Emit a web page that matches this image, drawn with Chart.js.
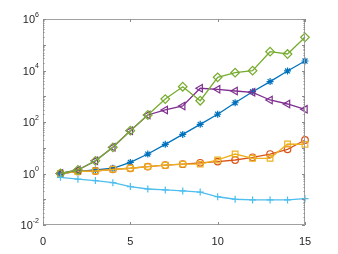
<!DOCTYPE html>
<html>
<head>
<meta charset="utf-8">
<script src="https://cdn.jsdelivr.net/npm/chart.js@4"></script>
<style>
  html, body { margin: 0; padding: 0; background: #fff; }
  #wrap { width: 338px; height: 254px; }
</style>
</head>
<body>
<div id="wrap"><canvas id="c" width="338" height="254"></canvas></div>
<script>
// data
var xs = [1, 2, 3, 4, 5, 6, 7, 8, 9, 10, 11, 12, 13, 14, 15];
var blueStar = [1, 1.2, 1.37, 1.6, 2.7, 5.7, 13.6, 33, 81, 200, 560, 1500, 3700, 9600, 23400];
var orangeCircle = [1, 1.2, 1.25, 1.45, 1.6, 1.85, 2.1, 2.3, 2.6, 2.9, 3.35, 4.25, 5.7, 8.7, 20];
var yellowSquare = [1, 1.2, 1.25, 1.45, 1.6, 1.85, 2.1, 2.3, 2.3, 3.35, 5.7, 3.9, 3.9, 14, 13.6];
var purpleTri = [1, 1.37, 3.1, 10.4, 46, 187, 293, 420, 2040, 1860, 1600, 1420, 715, 500, 310];
var greenDiamond = [1, 1.37, 3.1, 10.4, 46, 187, 780, 2340, 670, 5450, 8200, 9800, 53700, 43700, 195000];
var cyanPlus = [0.71, 0.6, 0.53, 0.44, 0.31, 0.25, 0.23, 0.21, 0.19, 0.125, 0.1, 0.094, 0.094, 0.094, 0.105];
var xTicks = [0, 5, 10, 15];
var yTicks = [1e-2, 1e0, 1e2, 1e4, 1e6];

var AXIS = '#262626';
var FONT = "'Liberation Sans', Arial, sans-serif";

function series(data, color, style, rot, radius) {
  return {
    data: xs.map(function (x, i) { return { x: x, y: data[i] }; }),
    borderColor: color,
    backgroundColor: color,
    borderWidth: 1.3,
    pointStyle: style,
    rotation: rot || 0,
    pointRadius: radius || 4,
    pointBorderColor: color,
    pointBackgroundColor: 'rgba(0,0,0,0)',
    pointBorderWidth: 1.2,
    clip: false,
    tension: 0
  };
}

// MATLAB-style box, inward ticks and superscript decade labels
var boxPlugin = {
  id: 'box',
  afterDraw: function (chart) {
    var ctx = chart.ctx;
    var a = chart.chartArea;
    var xs_ = chart.scales.x, ys = chart.scales.y;
    ctx.save();
    ctx.strokeStyle = '#a0a0a0';
    ctx.lineWidth = 1;
    ctx.strokeRect(a.left + 0.5, a.top + 0.5, a.right - a.left - 1, a.bottom - a.top - 1);

    ctx.strokeStyle = '#8a8a8a';
    ctx.beginPath();
    xTicks.forEach(function (v) {
      var px = Math.round(xs_.getPixelForValue(v)) + 0.5;
      ctx.moveTo(px, a.bottom); ctx.lineTo(px, a.bottom - 3);
      ctx.moveTo(px, a.top); ctx.lineTo(px, a.top + 3);
    });
    for (var e = -2; e <= 6; e++) {
      for (var m = 1; m <= 9; m++) {
        var v = m * Math.pow(10, e);
        if (v > 1e6) break;
        var py = Math.round(ys.getPixelForValue(v)) + 0.5;
        var len = m === 1 ? 3 : 1.5;
        ctx.moveTo(a.left, py); ctx.lineTo(a.left + len, py);
        ctx.moveTo(a.right, py); ctx.lineTo(a.right - len, py);
      }
    }
    ctx.stroke();

    ctx.fillStyle = AXIS;
    ctx.textBaseline = 'middle';
    yTicks.forEach(function (v) {
      var py = ys.getPixelForValue(v);
      var exp = String(Math.round(Math.log10(v)));
      ctx.font = '7px ' + FONT;
      var ew = ctx.measureText(exp).width;
      ctx.textAlign = 'left';
      var xr = a.left - 4;
      ctx.fillText(exp, xr - ew, py - 4);
      ctx.font = '11px ' + FONT;
      ctx.textAlign = 'right';
      ctx.fillText('10', xr - ew, py + 1);
    });
    ctx.restore();
  }
};

new Chart(document.getElementById('c').getContext('2d'), {
  type: 'line',
  data: {
    datasets: [
      series(blueStar, '#0072BD', 'star', 0, 3.5),
      series(orangeCircle, '#D95319', 'circle', 0, 3.3),
      series(yellowSquare, '#EDB120', 'rect', 0, 4),
      series(purpleTri, '#7E2F8E', 'triangle', -90, 4.3),
      series(greenDiamond, '#77AC30', 'rectRot', 0, 4.3),
      series(cyanPlus, '#4DBEEE', 'cross', 0, 3.5)
    ].map(function (d, i) { d.order = 6 - i; return d; })
  },
  options: {
    responsive: false,
    animation: false,
    layout: { padding: { left: 0, right: 33, top: 19, bottom: 0 } },
    plugins: { legend: { display: false }, tooltip: { enabled: false } },
    scales: {
      x: {
        type: 'linear',
        min: 0,
        max: 15,
        afterBuildTicks: function (s) { s.ticks = xTicks.map(function (v) { return { value: v }; }); },
        afterFit: function (s) { s.height = 29; },
        grid: { display: false },
        border: { display: false },
        ticks: { color: AXIS, padding: 2, maxRotation: 0, font: { family: FONT, size: 11 } }
      },
      y: {
        type: 'logarithmic',
        min: 1e-2,
        max: 1e6,
        afterBuildTicks: function (s) { s.ticks = yTicks.map(function (v) { return { value: v }; }); },
        afterFit: function (s) { s.width = 43; },
        grid: { display: false },
        border: { display: false },
        ticks: { display: false }
      }
    }
  },
  plugins: [boxPlugin]
});
</script>
</body>
</html>
